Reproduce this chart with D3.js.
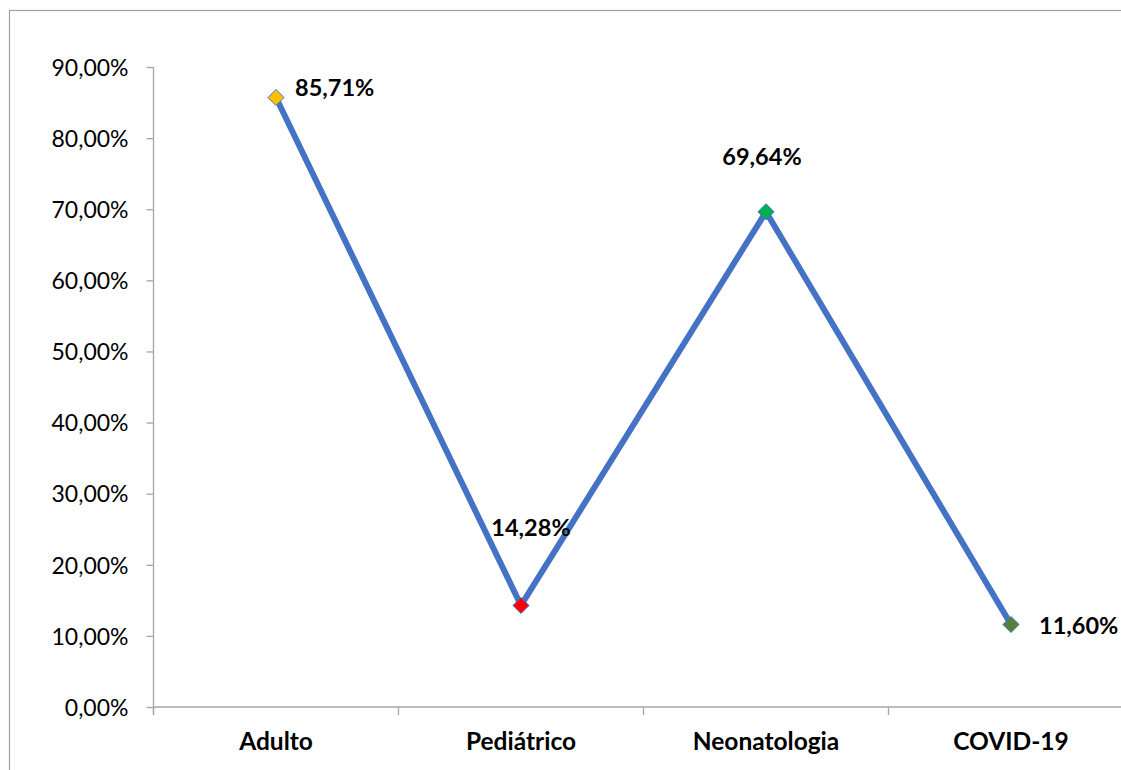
<!DOCTYPE html>
<html>
<head>
<meta charset="utf-8">
<script src="https://cdn.jsdelivr.net/npm/d3@7"></script>
<style>
  html, body { margin: 0; padding: 0; background: #ffffff; }
  svg { display: block; }
  text { font-family: Lato, "Open Sans", Calibri, sans-serif; }
</style>
</head>
<body>
<svg id="chart" width="1121" height="770"></svg>
<script>
// ---- data ----
const categories = ["Adulto", "Pediátrico", "Neonatologia", "COVID-19"];
const values = [0.8571, 0.1428, 0.6964, 0.1160];
const valueLabels = ["85,71%", "14,28%", "69,64%", "11,60%"];
const markerColors = ["#FFC000", "#FF0000", "#00B050", "#548235"];
const yTicks = [0, 0.1, 0.2, 0.3, 0.4, 0.5, 0.6, 0.7, 0.8, 0.9];
const yTickLabels = ["0,00%", "10,00%", "20,00%", "30,00%", "40,00%", "50,00%", "60,00%", "70,00%", "80,00%", "90,00%"];

// ---- layout ----
const svg = d3.select("#chart");
const plot = { left: 153.5, right: 1133.5, top: 67, bottom: 707 };
const axisColor = "#A6A6A6";

// outer chart border (extends past the right/bottom edge)
svg.append("rect")
  .attr("x", 9.5).attr("y", 10.5)
  .attr("width", 1200).attr("height", 800)
  .attr("fill", "none").attr("stroke", "#A0A0A0").attr("stroke-width", 1.2);

const x = d3.scaleBand().domain(categories).range([plot.left, plot.right]).padding(0);
const y = d3.scaleLinear().domain([0, 0.9]).range([plot.bottom, plot.top]);
const cx = c => x(c) + x.bandwidth() / 2;

// y axis
const yAxis = d3.axisLeft(y)
  .tickValues(yTicks)
  .tickFormat((d, i) => yTickLabels[i])
  .tickSize(7)
  .tickPadding(18);
const gy = svg.append("g").attr("transform", `translate(${plot.left},0)`).call(yAxis);
gy.select(".domain").remove();
gy.selectAll(".tick line").attr("stroke", axisColor).attr("stroke-width", 1.3);
gy.selectAll(".tick text")
  .attr("fill", "#000").attr("font-size", 23).attr("font-family", "Lato, 'Open Sans', sans-serif")
  .attr("dy", "0.36em");
svg.append("line")
  .attr("x1", plot.left).attr("x2", plot.left)
  .attr("y1", plot.top).attr("y2", plot.bottom + 8)
  .attr("stroke", axisColor).attr("stroke-width", 1.3);

// x axis line + boundary ticks
svg.append("line")
  .attr("x1", plot.left).attr("x2", plot.right)
  .attr("y1", plot.bottom).attr("y2", plot.bottom)
  .attr("stroke", axisColor).attr("stroke-width", 1.3);
svg.append("g").selectAll("line")
  .data(categories)
  .join("line")
  .attr("x1", d => x(d)).attr("x2", d => x(d))
  .attr("y1", plot.bottom).attr("y2", plot.bottom + 8)
  .attr("stroke", axisColor).attr("stroke-width", 1.3);

// category labels
svg.append("g").selectAll("text")
  .data(categories)
  .join("text")
  .attr("x", d => cx(d))
  .attr("y", 750)
  .attr("text-anchor", "middle")
  .attr("font-size", 24.5)
  .attr("font-weight", "bold")
  .attr("fill", "#000")
  .text(d => d);

// line
const pts = categories.map((c, i) => ({ c, v: values[i], i }));
svg.append("path")
  .datum(pts)
  .attr("fill", "none")
  .attr("stroke", "#4472C4")
  .attr("stroke-width", 6)
  .attr("stroke-linejoin", "round")
  .attr("d", d3.line().x(d => cx(d.c)).y(d => y(d.v)));

// markers (diamonds)
const diamond = d3.symbol().type(d3.symbolDiamond2).size(165);
svg.append("g").selectAll("path")
  .data(pts)
  .join("path")
  .attr("transform", d => `translate(${cx(d.c)},${y(d.v)})`)
  .attr("d", diamond)
  .attr("fill", d => markerColors[d.i])
  .attr("stroke", "#4472C4")
  .attr("stroke-width", 1);

// data labels (placement offsets per point)
const labelPlace = [
  { anchor: "start", dx: 19, dy: -1.5 },
  { anchor: "middle", dx: 10, dy: -69.5 },
  { anchor: "middle", dx: -4, dy: -47 },
  { anchor: "start", dx: 28, dy: 9.5 }
];
svg.append("g").selectAll("text")
  .data(pts)
  .join("text")
  .attr("x", d => cx(d.c) + labelPlace[d.i].dx)
  .attr("y", d => y(d.v) + labelPlace[d.i].dy)
  .attr("text-anchor", d => labelPlace[d.i].anchor)
  .attr("font-size", 23.5)
  .attr("font-weight", "bold")
  .attr("fill", "#000")
  .text(d => valueLabels[d.i]);
</script>
</body>
</html>
